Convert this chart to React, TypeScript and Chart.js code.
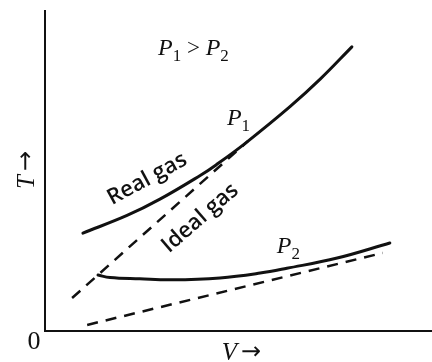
import React, { useEffect, useRef } from "react";
import { Chart, registerables } from "chart.js";

Chart.register(...registerables);

// ---- data (V, T in arbitrary units) ----
const V_MAX = 10;
const T_MAX = 10;

const p1RealV = [0.98, 2.12, 2.97, 4.01, 4.42, 5.19, 6.33, 7.11, 7.93];
const p1RealT = [3.06, 3.61, 4.12, 4.86, 5.19, 5.88, 7.01, 7.87, 8.88];

const p1IdealV = [0.7, 5.25];
const p1IdealT = [1.03, 5.94];

const p2RealV = [1.37, 1.68, 2.45, 3.28, 4.52, 5.56, 6.25, 7.55, 8.91];
const p2RealT = [1.75, 1.67, 1.63, 1.6, 1.66, 1.81, 1.96, 2.28, 2.75];

const p2IdealV = [1.09, 8.73];
const p2IdealT = [0.19, 2.44];

// rich labels: [text, isSubscript]
const compareLabel: [string, boolean][] = [["P", false], ["1", true], [" > ", false], ["P", false], ["2", true]];
const p1Label: [string, boolean][] = [["P", false], ["1", true]];
const p2Label: [string, boolean][] = [["P", false], ["2", true]];
const richLabels = [compareLabel, p1Label, p2Label];
const richLabelV = [2.92, 4.7, 5.99];
const richLabelT = [8.63, 6.44, 2.44];

const curveLabels = ["Real gas", "Ideal gas"];
const curveLabelV = [2.64, 4.01];
const curveLabelT = [4.75, 3.53];
const curveLabelAngle = [-28.5, -41];

const xTitleVar = "V";
const yTitleVar = "T";
const arrow = "\u2192";
const originLabel = "0";

const toPts = (xs: number[], ys: number[]) => xs.map((x, i) => ({ x, y: ys[i] }));

const SERIF = '"Liberation Serif", "DejaVu Serif", serif';
const SANS = '"Open Sans", "DejaVu Sans", sans-serif';
const ARROW_FONT = '"DejaVu Sans", sans-serif';

function drawRich(ctx: CanvasRenderingContext2D, parts: [string, boolean][], x: number, y: number) {
  let cx = x;
  for (const [t, sub] of parts) {
    if (sub) {
      ctx.font = `17px ${SERIF}`;
      ctx.fillText(t, cx, y + 6);
    } else if (t.trim() === "P") {
      ctx.font = `italic 24px ${SERIF}`;
      ctx.fillText(t, cx, y);
    } else {
      ctx.font = `23px ${SERIF}`;
      ctx.fillText(t, cx, y);
    }
    cx += ctx.measureText(t).width;
  }
}

// axis title: italic variable + gap + arrow, centred on (0,0) horizontally, alphabetic baseline at 0
function drawAxisTitle(ctx: CanvasRenderingContext2D, v: string) {
  const vf = `italic 25px ${SERIF}`;
  const af = `24px ${ARROW_FONT}`;
  const gap = 4;
  ctx.font = vf;
  const wv = ctx.measureText(v).width;
  ctx.font = af;
  const wa = ctx.measureText(arrow).width;
  const start = -(wv + gap + wa) / 2;
  ctx.textAlign = "left";
  ctx.font = vf;
  ctx.fillText(v, start, 0);
  ctx.font = af;
  ctx.fillText(arrow, start + wv + gap, -1);
}

const textPlugin = {
  id: "annotText",
  afterDraw(chart: any) {
    const { ctx, chartArea } = chart;
    const xs = chart.scales.x;
    const ys = chart.scales.y;
    ctx.save();
    ctx.fillStyle = "#111";
    ctx.textAlign = "left";
    ctx.textBaseline = "alphabetic";
    richLabels.forEach((parts, i) => {
      drawRich(ctx, parts, xs.getPixelForValue(richLabelV[i]), ys.getPixelForValue(richLabelT[i]));
    });

    ctx.textAlign = "center";
    ctx.textBaseline = "middle";
    ctx.font = `600 22px ${SANS}`;
    curveLabels.forEach((t, i) => {
      ctx.save();
      ctx.translate(xs.getPixelForValue(curveLabelV[i]), ys.getPixelForValue(curveLabelT[i]));
      ctx.rotate((curveLabelAngle[i] * Math.PI) / 180);
      ctx.fillText(t, 0, 0);
      ctx.restore();
    });

    // origin
    ctx.font = `26px ${SERIF}`;
    ctx.fillText(originLabel, chartArea.left - 11, chartArea.bottom + 11);

    // axis titles
    ctx.textBaseline = "alphabetic";
    ctx.save();
    ctx.translate((chartArea.left + chartArea.right) / 2 + 3, chartArea.bottom + 29);
    drawAxisTitle(ctx, xTitleVar);
    ctx.restore();

    ctx.save();
    ctx.translate(chartArea.left - 11, (chartArea.top + chartArea.bottom) / 2 - 1);
    ctx.rotate(-Math.PI / 2);
    drawAxisTitle(ctx, yTitleVar);
    ctx.restore();
    ctx.restore();
  },
};

export default function App() {
  const ref = useRef<HTMLCanvasElement | null>(null);

  useEffect(() => {
    if (!ref.current) return;
    const solid = {
      borderColor: "#111",
      borderWidth: 3,
      pointRadius: 0,
      tension: 0.4,
      borderCapStyle: "round" as const,
      fill: false,
    };
    const dashed = {
      borderColor: "#111",
      borderWidth: 2.5,
      pointRadius: 0,
      borderDash: [11, 8],
      fill: false,
    };
    const chart = new Chart(ref.current, {
      type: "line",
      data: {
        datasets: [
          { ...solid, label: "Real gas P1", data: toPts(p1RealV, p1RealT) },
          { ...dashed, label: "Ideal gas P1", data: toPts(p1IdealV, p1IdealT) },
          { ...solid, label: "Real gas P2", data: toPts(p2RealV, p2RealT) },
          { ...dashed, label: "Ideal gas P2", data: toPts(p2IdealV, p2IdealT) },
        ],
      },
      options: {
        responsive: false,
        animation: false,
        events: [],
        layout: { padding: { left: 45, top: 11, right: 0, bottom: 31 } },
        plugins: { legend: { display: false }, tooltip: { enabled: false } },
        scales: {
          x: {
            type: "linear",
            min: 0,
            max: V_MAX,
            grid: { display: false, drawTicks: false },
            ticks: { display: false },
            border: { display: true, color: "#111", width: 2 },
          },
          y: {
            type: "linear",
            min: 0,
            max: T_MAX,
            grid: { display: false, drawTicks: false },
            ticks: { display: false },
            border: { display: true, color: "#111", width: 2 },
          },
        },
      },
      plugins: [textPlugin],
    });
    return () => chart.destroy();
  }, []);

  return (
    <div style={{ position: "absolute", left: 0, top: 0, width: 432, height: 362, background: "#fff" }}>
      <canvas ref={ref} width={432} height={362} style={{ display: "block" }} />
    </div>
  );
}
